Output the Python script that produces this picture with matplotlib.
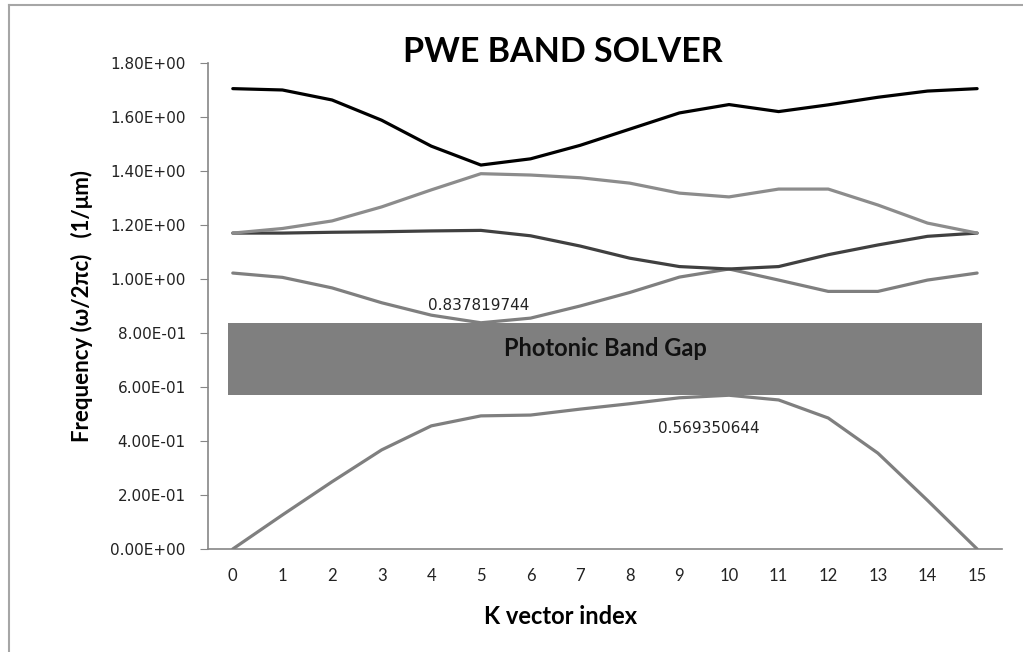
import matplotlib
matplotlib.use('Agg')
import matplotlib.pyplot as plt
from matplotlib.lines import Line2D
from matplotlib.ticker import FuncFormatter

# K vector index and band frequencies (omega/2pi c, 1/um)
k = list(range(16))
band1 = [0.0, 0.126, 0.249, 0.367, 0.456, 0.493, 0.496, 0.518, 0.538, 0.560, 0.5694, 0.552, 0.485, 0.355, 0.180, 0.0]
band3 = [1.022, 1.006, 0.967, 0.912, 0.866, 0.8378, 0.855, 0.900, 0.950, 1.007, 1.037, 0.996, 0.954, 0.954, 0.996, 1.022]
band4 = [1.170, 1.170, 1.173, 1.175, 1.178, 1.180, 1.160, 1.122, 1.077, 1.046, 1.037, 1.046, 1.090, 1.126, 1.158, 1.170]
band5 = [1.170, 1.187, 1.215, 1.267, 1.330, 1.390, 1.385, 1.375, 1.355, 1.318, 1.304, 1.333, 1.333, 1.274, 1.207, 1.170]
band6 = [1.705, 1.700, 1.663, 1.588, 1.492, 1.422, 1.445, 1.495, 1.555, 1.615, 1.646, 1.620, 1.645, 1.673, 1.696, 1.705]

gap_top = 0.837819744
gap_bottom = 0.569350644
yticks = [0.0, 0.2, 0.4, 0.6, 0.8, 1.0, 1.2, 1.4, 1.6, 1.8]

fig = plt.figure(figsize=(10.23, 6.52), dpi=100)
ax = fig.add_axes([0.2033, 0.158, 0.7761, 0.7454])

# band gap box
ax.fill_between([-0.1, 15.1], gap_bottom, gap_top, color='#7f7f7f', zorder=1, lw=0)
ax.text(7.5, 0.744, 'Photonic Band Gap', family='Lato', fontweight='bold',
        fontsize=17, ha='center', va='center', color='#111111', zorder=5)

ax.plot(k, band1, color='#7f7f7f', lw=2.3, zorder=3, solid_capstyle='round')
ax.plot(k, band3, color='#7f7f7f', lw=2.3, zorder=3, solid_capstyle='round')
ax.plot(k, band4, color='#404040', lw=2.3, zorder=3, solid_capstyle='round')
ax.plot(k, band5, color='#8c8c8c', lw=2.3, zorder=3, solid_capstyle='round')
ax.plot(k, band6, color='#000000', lw=2.3, zorder=3, solid_capstyle='round')

ax.text(4.95, 0.9, '%.9f' % gap_top, fontsize=11, ha='center', va='center', color='#222222')
ax.text(9.6, 0.448, '%.9f' % gap_bottom, fontsize=11, ha='center', va='center', color='#222222')

ax.set_xlim(-0.5, 15.5)
ax.set_ylim(0, 1.8)
ax.set_xticks(k)
ax.set_yticks(yticks)
ax.yaxis.set_major_formatter(FuncFormatter(lambda v, p: '%.2E' % v))
for lab in ax.get_xticklabels():
    lab.set_family('Lato')
    lab.set_fontsize(12)
ax.tick_params(axis='y', length=6, color='#868686', labelsize=11, pad=10, labelcolor='#222222')
ax.tick_params(axis='x', length=0, pad=14, labelcolor='#222222')

for s in ['top', 'right']:
    ax.spines[s].set_visible(False)
for s in ['left', 'bottom']:
    ax.spines[s].set_color('#868686')
    ax.spines[s].set_linewidth(1.2)

fig.text(563 / 1023, 1 - 52 / 652, 'PWE BAND SOLVER', family='Lato', fontweight='bold',
         fontsize=24.5, ha='center', va='center')
fig.text(561 / 1023, 1 - 617 / 652, 'K vector index', family='Lato', fontweight='bold',
         fontsize=17, ha='center', va='center')
fig.text(82 / 1023, 1 - 306 / 652, 'Frequency (\u03c9/2\u03c0c)   (1/\u03bcm)', family='Lato',
         fontweight='bold', fontsize=16, ha='center', va='center', rotation=90)

# chart frame
fig.add_artist(Line2D([9 / 1023, 9 / 1023], [0, 1 - 5 / 652], color='#a6a6a6', lw=1.5, transform=fig.transFigure))
fig.add_artist(Line2D([9 / 1023, 1], [1 - 5 / 652, 1 - 5 / 652], color='#a6a6a6', lw=1.5, transform=fig.transFigure))

fig.savefig('out.png', dpi=100)
